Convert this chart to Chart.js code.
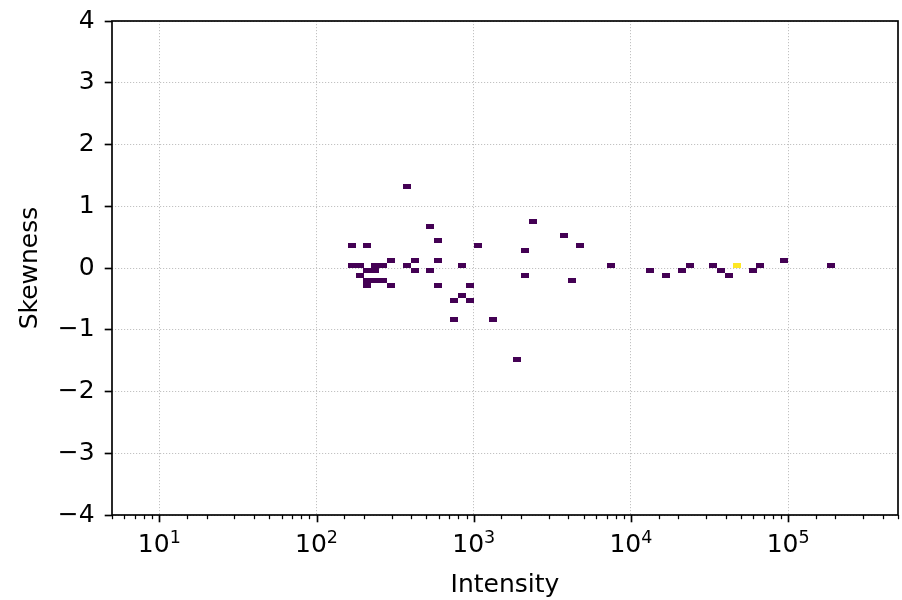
<!DOCTYPE html>
<html><head><meta charset="utf-8">
<script src="https://cdn.jsdelivr.net/npm/chart.js@4.4.1/dist/chart.umd.min.js"></script>
<style>html,body{margin:0;padding:0;background:#fff}#wrap{width:902px;height:600px}</style>
</head><body><div id="wrap"><canvas id="c" width="902" height="600"></canvas></div>
<script>
// 2D histogram cells (bin centres)
const intensity = [375, 2366, 530, 3749, 594, 168, 211, 1057, 4720, 2108,
  298, 421, 594, 94180, 168, 188, 237, 265, 375, 840,
  7480, 23660, 33420, 47200, 66670, 187900, 211, 237, 421, 530,
  13300, 21090, 37490, 59420, 188, 2108, 16750, 42070, 211, 237,
  265, 4207, 211, 298, 594, 942, 840, 748, 942, 748,
  1330, 1879];
const skewness = [1.32, 0.76, 0.68, 0.52, 0.44, 0.36, 0.36, 0.36, 0.36, 0.28,
  0.12, 0.12, 0.12, 0.12, 0.04, 0.04, 0.04, 0.04, 0.04, 0.04,
  0.04, 0.04, 0.04, 0.04, 0.04, 0.04, -0.04, -0.04, -0.04, -0.04,
  -0.04, -0.04, -0.04, -0.04, -0.12, -0.12, -0.12, -0.12, -0.2, -0.2,
  -0.2, -0.2, -0.28, -0.28, -0.28, -0.28, -0.44, -0.52, -0.52, -0.84,
  -0.84, -1.48];
const counts = [1, 1, 1, 1, 1, 1, 1, 1, 1, 1,
  1, 1, 1, 1, 1, 1, 1, 1, 1, 1,
  1, 1, 1, 2, 1, 1, 1, 1, 1, 1,
  1, 1, 1, 1, 1, 1, 1, 1, 1, 1,
  1, 1, 1, 1, 1, 1, 1, 1, 1, 1,
  1, 1];
const xTickExponents = [1, 2, 3, 4, 5];
const yTickValues = [-4, -3, -2, -1, 0, 1, 2, 3, 4];
const xLabel = 'Intensity';
const yLabel = 'Skewness';

// style
const FONT = 'DejaVu Sans';
const FS = 25;
const X_MIN = 5, X_MAX = 5e5, Y_MIN = -4, Y_MAX = 4;
const CELL_DEC = 0.05, CELL_SKEW = 0.08;
const LOW = '#440154', HIGH = '#fde725';
const GRID = '#c2c2c2';

const points = intensity.map((v, i) => ({x: v, y: skewness[i], c: counts[i]}));
const maxCount = Math.max(...counts);

const cellCache = {};
function cellImage(ctx) {
  const ch = ctx.chart, xs = ch.scales.x, ys = ch.scales.y;
  if (!xs || !ys) return 'rect';
  const w = Math.max(1, Math.round(xs.getPixelForValue(X_MIN * Math.pow(10, CELL_DEC)) - xs.getPixelForValue(X_MIN)));
  const h = Math.max(1, Math.round(ys.getPixelForValue(0) - ys.getPixelForValue(CELL_SKEW)));
  const raw = ctx.raw || {};
  const col = (raw.c >= maxCount && maxCount > 1) ? HIGH : LOW;
  const key = w + 'x' + h + col;
  if (!cellCache[key]) {
    const cv = document.createElement('canvas');
    cv.width = w; cv.height = h;
    const g = cv.getContext('2d');
    g.fillStyle = col; g.fillRect(0, 0, w, h);
    cellCache[key] = cv;
  }
  return cellCache[key];
}

function isPow10(v) {
  const l = Math.log10(v);
  return Math.abs(l - Math.round(l)) < 1e-9;
}

const decor = {
  id: 'decor',
  afterDraw(chart) {
    const {ctx, chartArea: a} = chart;
    const xs = chart.scales.x;
    ctx.save();
    ctx.strokeStyle = '#000';
    // x tick marks (major + minor)
    xs.ticks.forEach(t => {
      const v = t.value;
      if (v < X_MIN - 1e-9 || v > X_MAX + 1e-9) return;
      const major = isPow10(v);
      const px = Math.round(xs.getPixelForValue(v)) + 0.5;
      ctx.lineWidth = major ? 1.67 : 1.25;
      ctx.beginPath();
      ctx.moveTo(px, a.bottom);
      ctx.lineTo(px, a.bottom + (major ? 7.3 : 4.2));
      ctx.stroke();
    });
    // x tick labels 10^n
    ctx.fillStyle = '#000';
    ctx.textBaseline = 'alphabetic';
    ctx.textAlign = 'left';
    xTickExponents.forEach(e => {
      const px = xs.getPixelForValue(Math.pow(10, e));
      ctx.font = FS + 'px "' + FONT + '"';
      const base = '10';
      const wb = ctx.measureText(base).width;
      ctx.font = (FS * 0.7) + 'px "' + FONT + '"';
      const sup = String(e);
      const ws = ctx.measureText(sup).width;
      const x0 = px - (wb + ws) / 2;
      const baseY = a.bottom + 37;
      ctx.font = FS + 'px "' + FONT + '"';
      ctx.fillText(base, x0, baseY);
      ctx.font = (FS * 0.7) + 'px "' + FONT + '"';
      ctx.fillText(sup, x0 + wb, baseY - 9);
    });
    // frame
    ctx.lineWidth = 1.67;
    ctx.strokeRect(a.left, a.top, a.right - a.left, a.bottom - a.top);
    ctx.restore();
  }
};

new Chart(document.getElementById('c'), {
  type: 'scatter',
  data: {
    datasets: [{
      data: points,
      pointStyle: cellImage,
      pointRadius: 4,
      pointHoverRadius: 4,
      pointBackgroundColor: LOW,
      pointBorderWidth: 0
    }]
  },
  options: {
    responsive: false,
    devicePixelRatio: 1,
    animation: false,
    events: [],
    layout: {padding: {top: 21, right: 2, left: 0, bottom: 0}},
    plugins: {legend: {display: false}, tooltip: {enabled: false}},
    scales: {
      x: {
        type: 'logarithmic',
        min: X_MIN, max: X_MAX,
        afterFit(s) { s.height = 85; s.paddingLeft = 0; s.paddingRight = 0; },
        grid: {
          drawTicks: false,
          lineWidth: 1,
          color: c => (c.tick && isPow10(c.tick.value)) ? GRID : 'rgba(0,0,0,0)'
        },
        border: {display: false, dash: [1.2, 1.8]},
        ticks: {display: false},
        title: {display: true, text: xLabel, color: '#000', font: {family: FONT, size: FS}, padding: {top: 0, bottom: 0}}
      },
      y: {
        type: 'linear',
        min: Y_MIN, max: Y_MAX,
        afterFit(s) { s.width = 112; s.paddingTop = 0; s.paddingBottom = 0; },
        afterBuildTicks(s) { s.ticks = yTickValues.map(v => ({value: v})); },
        grid: {
          drawTicks: true,
          tickLength: 7.3,
          tickWidth: 1.67,
          tickColor: '#000',
          tickBorderDash: [],
          lineWidth: 1,
          color: GRID
        },
        border: {display: false, dash: [1.2, 1.8]},
        ticks: {
          color: '#000',
          padding: 10,
          font: {family: FONT, size: FS},
          callback: v => v < 0 ? '\u2212' + Math.abs(v) : String(v)
        },
        title: {display: true, text: yLabel, color: '#000', font: {family: FONT, size: FS}, padding: {top: 15, bottom: 0}}
      }
    }
  },
  plugins: [decor]
});
</script>
</body></html>
